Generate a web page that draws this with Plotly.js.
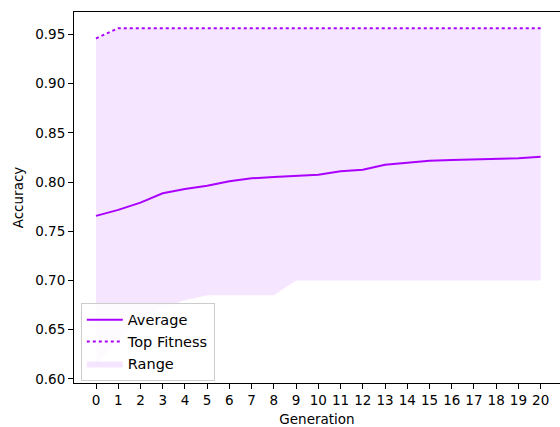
<!DOCTYPE html>
<html>
<head>
<meta charset="utf-8">
<script src="https://cdn.plot.ly/plotly-3.0.1.min.js"></script>
<style>html,body{margin:0;padding:0;background:#fff}#chart{width:560px;height:427px}</style>
</head>
<body>
<div id="chart"></div>
<script>
const generations = [0,1,2,3,4,5,6,7,8,9,10,11,12,13,14,15,16,17,18,19,20];
const averageAcc = [0.7657,0.7718,0.7792,0.7887,0.7931,0.7964,0.8009,0.8039,0.8052,0.8065,0.8075,0.8110,0.8126,0.8177,0.8194,0.8218,0.8225,0.8232,0.8238,0.8242,0.8258];
const topFitness = [0.9460,0.9564,0.9564,0.9564,0.9564,0.9564,0.9564,0.9564,0.9564,0.9564,0.9564,0.9564,0.9564,0.9564,0.9564,0.9564,0.9564,0.9564,0.9564,0.9564,0.9564];
const rangeMin = [0.614,0.640,0.660,0.672,0.680,0.685,0.685,0.685,0.685,0.700,0.700,0.700,0.700,0.700,0.700,0.700,0.700,0.700,0.700,0.700,0.700];
const rangeMax = topFitness;
const yTicks = [0.60,0.65,0.70,0.75,0.80,0.85,0.90,0.95];

const purple = '#aa00ff';
const traces = [
  {x: generations, y: rangeMin, mode: 'lines', line: {width: 0, color: 'rgba(170,0,255,0)'}, showlegend: false, hoverinfo: 'skip'},
  {x: generations, y: rangeMax, mode: 'lines', fill: 'tonexty', fillcolor: 'rgba(170,0,255,0.1)', line: {width: 0, color: 'rgba(170,0,255,0)'}, name: 'Range', legendrank: 3},
  {x: generations, y: averageAcc, mode: 'lines', line: {color: purple, width: 2}, name: 'Average', legendrank: 1},
  {x: generations, y: topFitness, mode: 'lines', line: {color: purple, width: 2, dash: 'dot'}, name: 'Top Fitness', legendrank: 2}
];

const font = {family: 'DejaVu Sans, sans-serif', size: 13.5, color: '#000'};
const legendFont = {family: 'DejaVu Sans, sans-serif', size: 14.5, color: '#000'};
const layout = {
  width: 560, height: 427,
  margin: {l: 74, r: 0, t: 12, b: 44},
  paper_bgcolor: '#fff', plot_bgcolor: '#fff',
  font: font,
  showlegend: true,
  legend: {x: 0.014, y: 0.006, xanchor: 'left', yanchor: 'bottom', traceorder: 'normal', bgcolor: 'rgba(255,255,255,0.85)', bordercolor: '#cccccc', borderwidth: 1, font: legendFont, tracegroupgap: 0, itemwidth: 36},
  xaxis: {
    range: [-0.99, 20.87], tickmode: 'array', tickvals: generations, ticktext: generations.map(String),
    showgrid: false, zeroline: false, showline: true, linecolor: '#000', linewidth: 1, mirror: true,
    ticks: 'outside', ticklen: 5, tickcolor: '#000', tickwidth: 1,
    title: {text: 'Generation', font: font, standoff: 11}
  },
  yaxis: {
    range: [0.5959, 0.9729], tickmode: 'array', tickvals: yTicks, ticktext: yTicks.map(v => v.toFixed(2)),
    showgrid: false, zeroline: false, showline: true, linecolor: '#000', linewidth: 1,
    ticks: 'outside', ticklen: 5, tickcolor: '#000', tickwidth: 1,
    title: {text: 'Accuracy', font: font, standoff: 8}
  }
};
Plotly.newPlot('chart', traces, layout, {displayModeBar: false, staticPlot: true});
</script>
</body>
</html>
